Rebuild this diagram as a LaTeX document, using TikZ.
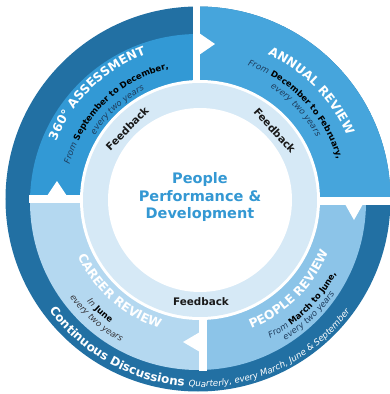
\documentclass[tikz,border=0pt]{standalone}
\usepackage{fontspec}
\setmainfont{DejaVu Sans}
\usetikzlibrary{decorations.text}
\definecolor{ringdark}{RGB}{34,112,163}
\definecolor{assess}{RGB}{50,153,213}
\definecolor{annual}{RGB}{70,165,220}
\definecolor{peoplec}{RGB}{140,196,232}
\definecolor{careerc}{RGB}{180,216,240}
\definecolor{feedc}{RGB}{214,233,246}
\definecolor{centerc}{RGB}{52,152,211}
\definecolor{subnavy}{RGB}{30,60,92}
\definecolor{subgray}{RGB}{55,55,60}
\newcommand\fmtTitle{\fontsize{12.3}{14}\selectfont\bfseries\upshape\color{white}}
\newcommand\fmtItNavy{\fontsize{8.5}{10}\selectfont\mdseries\itshape\color{subnavy}}
\newcommand\fmtItGray{\fontsize{8.5}{10}\selectfont\mdseries\itshape\color{subgray}}
\newcommand\fmtBoldBlk{\fontsize{8.5}{10}\selectfont\bfseries\upshape\color{black}}
\newcommand\fmtContB{\fontsize{12}{14}\selectfont\bfseries\upshape\color{white}}
\newcommand\fmtContI{\fontsize{8.7}{11}\selectfont\mdseries\itshape\color{white}}
\begin{document}
\begin{tikzpicture}[x=1pt,y=1pt,
  arctext/.style={decorate,decoration={text along path,text align=center,text={#1}}},
  arctextleft/.style={decorate,decoration={text along path,text align=left,text={#1}}},
  fbtext/.style={font=\fontsize{10.4}{12}\selectfont\bfseries,text=black!90,inner sep=0pt},
  ctrtext/.style={font=\fontsize{14.5}{17.5}\selectfont\bfseries,text=centerc,align=center,inner sep=0pt},
  gapfill/.style={fill=white}]
\useasboundingbox (-200,-194) rectangle (190,200);
% outer ring (continuous discussions)
\fill[ringdark] (-2,1) circle[radius=192.5pt];
% annual review quadrant (full radius)
\begin{scope}
  \clip (-2,1) circle[radius=192.5pt];
  \fill[annual] (0,0) rectangle (200,200);
\end{scope}
% other three quadrants
\begin{scope}
  \clip (-2,-2) circle[radius=168pt];
  \fill[assess] (-200,0) rectangle (0,200);
  \fill[careerc] (-200,-200) rectangle (0,0);
  \fill[peoplec] (0,-200) rectangle (200,0);
\end{scope}
% feedback ring and centre
\fill[white] (0,0) circle[radius=120pt];
\fill[feedc] (0,0) circle[radius=117pt];
\fill[white] (0,0) circle[radius=92pt];
% white gaps
\fill[gapfill] (-7,117) rectangle (0,201);
\fill[gapfill] (117,-5) rectangle (191,3);
\fill[gapfill] (-1,-117) rectangle (7,-171);
\fill[gapfill] (-117,-3) rectangle (-171,5);
% arrow notches
\fill[gapfill] (-1,167) -- (15,156) -- (-1,145) -- cycle;
\fill[gapfill] (145,-4) -- (154,-20) -- (163,-4) -- cycle;
\fill[gapfill] (0,-132) -- (-17,-142) -- (0,-152) -- cycle;
\fill[gapfill] (-153,4) -- (-143,19) -- (-133,4) -- cycle;
% 360 assessment
\path[arctext={|\fmtTitle|360° ASSESSMENT}] (184:155.5pt) arc[start angle=184,end angle=84,radius=155.5pt];
\path[arctext={|\fmtItNavy|From |\fmtBoldBlk|September to December,}] (194:135pt) arc[start angle=194,end angle=74,radius=135pt];
\path[arctext={|\fmtItNavy|every two years}] (172.5:123.5pt) arc[start angle=172.5,end angle=92.5,radius=123.5pt];
% annual review
\path[arctext={|\fmtTitle|ANNUAL REVIEW}] (94.4:160.5pt) arc[start angle=94.4,end angle=-5.6,radius=160.5pt];
\path[arctext={|\fmtItNavy|From |\fmtBoldBlk|December to February,}] (103.4:143pt) arc[start angle=103.4,end angle=-16.6,radius=143pt];
\path[arctext={|\fmtItNavy|every two years}] (83.2:132.5pt) arc[start angle=83.2,end angle=3.2,radius=132.5pt];
% people review
\path[arctext={|\fmtTitle|PEOPLE REVIEW}] (-95.2:138.5pt) arc[start angle=-95.2,end angle=4.8,radius=138.5pt];
\path[arctext={|\fmtItNavy|From |\fmtBoldBlk|March to June,}] (-95.7:155pt) arc[start angle=-95.7,end angle=4.3,radius=155pt];
\path[arctext={|\fmtItNavy|every two years}] (-86.8:164pt) arc[start angle=-86.8,end angle=-6.8,radius=164pt];
% career review
\path[arctext={|\fmtTitle|CAREER REVIEW}] (178.6:134.5pt) arc[start angle=178.6,end angle=278.6,radius=134.5pt];
\path[arctext={|\fmtItGray|In |\fmtBoldBlk|June}] (197.8:152pt) arc[start angle=197.8,end angle=257.8,radius=152pt];
\path[arctext={|\fmtItGray|every two years}] (188.8:162.5pt) arc[start angle=188.8,end angle=268.8,radius=162.5pt];
% continuous discussions
\path[arctextleft={|\fmtContB|Continuous Discussions |\fmtContI|Quarterly, every March, June {\&} September}] (216.2:187pt) arc[start angle=216.2,end angle=345,radius=187pt];
% feedback labels
\node[fbtext,rotate=45.5] (fbA) at (135.5:102pt) {Feedback};
\node[fbtext,rotate=-47.2] (fbB) at (42.8:102pt) {Feedback};
\node[fbtext] (fbC) at (1,-102) {Feedback};
% centre
\node[ctrtext] (ctr) at (0,3) {People\\Performance \&\\Development};
\end{tikzpicture}
\end{document}
